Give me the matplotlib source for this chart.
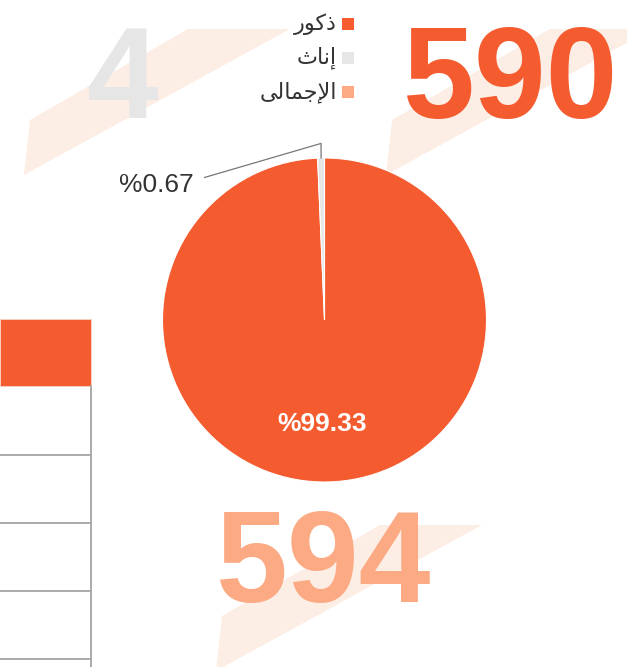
import numpy as np
import matplotlib.pyplot as plt
from matplotlib.patches import Polygon, Rectangle

# data
categories = ["\uFEAD\uFEEE\uFEDB\uFEAB",                      # ذكور
              "\uFE99\uFE8E\uFEE7\uFE87",                      # إناث
              "\uFEF0\uFEDF\uFE8E\uFEE4\uFE9F\uFEF9\uFE8D"]    # الإجمالى
males = 590
females = 4
total = males + females
colors = ["#f45b2f", "#e6e6e6", "#fcaa84"]
stripe_color = "#fdeee5"

W, H = 627, 667
fig = plt.figure(figsize=(W / 100, H / 100), dpi=100)
bg = fig.add_axes([0, 0, 1, 1])
bg.set_xlim(0, W)
bg.set_ylim(H, 0)
bg.axis("off")

# diagonal background stripes (same shape, shifted)
stripe = np.array([[24, 175], [30, 120], [188, 29], [290, 29]])
for dx, dy in [(0, 0), (362, 0), (192, 496)]:
    bg.add_patch(Polygon(stripe + [dx, dy], closed=True, fc=stripe_color,
                         ec="none", zorder=0))

# big numbers
big = dict(family="Liberation Sans", weight="bold", fontsize=93,
           ha="center", va="baseline", zorder=2)
bg.text(122.5, 118, str(females), color=colors[1], **big)
bg.text(511, 118, str(males), color=colors[0], **big)
bg.text(324, 602, str(total), color=colors[2], **big)

# partial table at the left edge
bg.add_patch(Rectangle((0, 319), 91, 67, fc=colors[0], ec="#fbd3c4", lw=0.6, zorder=1))
bg.plot([91, 91], [386, H], color="#aaaaaa", lw=1.4, zorder=1)
for y in [455, 523, 591, 659]:
    bg.plot([0, 91], [y, y], color="#aaaaaa", lw=1.4, zorder=1)

# legend (square on the right, RTL)
for i, (lab, col) in enumerate(zip(categories, colors)):
    y = 24 + i * 34
    bg.add_patch(Rectangle((342, y - 6), 12, 12, fc=col, ec="none", zorder=3))
    bg.text(337, y, lab, family=["DejaVu Sans"], fontsize=16, color="#333333",
            ha="right", va="center", zorder=3)

# pie
cx, cy, r = 324.5, 320, 162
ax = fig.add_axes([(cx - r) / W, (H - cy - r) / H, 2 * r / W, 2 * r / H])
wedges, _ = ax.pie([males, females], colors=colors[:2], startangle=90,
                   counterclock=False, radius=1,
                   wedgeprops=dict(edgecolor="white", linewidth=0.8))
ax.set_xlim(-1, 1)
ax.set_ylim(-1, 1)
ax.axis("off")

pct = [100 * males / total, 100 * females / total]

w = wedges[0]
mid = np.deg2rad((w.theta1 + w.theta2) / 2)
ax.text(0.64 * np.cos(mid) - 0.03, 0.64 * np.sin(mid), "%" + f"{pct[0]:.2f}",
        family="Liberation Sans", weight="bold", fontsize=19, color="white",
        ha="center", va="center")

w = wedges[1]
mid = np.deg2rad((w.theta1 + w.theta2) / 2)
ex, ey = np.cos(mid), np.sin(mid)
ax.plot([ex, ex, -0.74], [ey, 1.09, 0.88], color="#777777", lw=0.9, clip_on=False)
ax.text(-0.81, 0.835, "%" + f"{pct[1]:.2f}", family="Liberation Sans",
        fontsize=19, color="#333333", ha="right", va="center")

fig.savefig("out.png", dpi=100)
